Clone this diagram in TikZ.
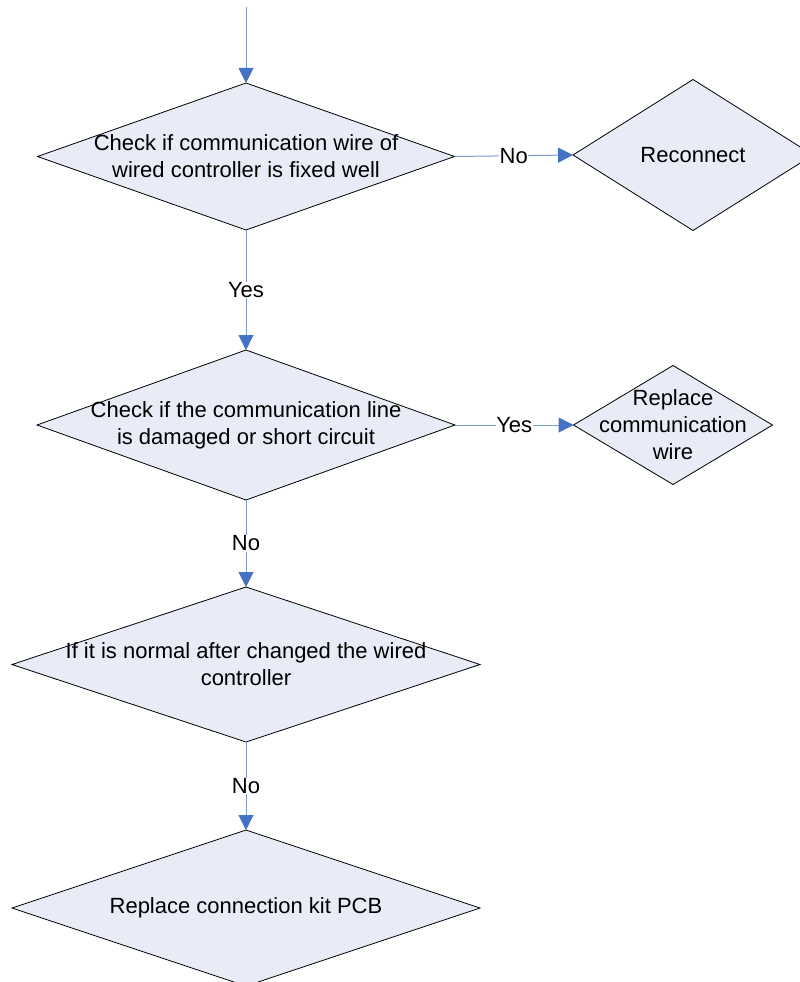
\documentclass[tikz,border=0pt]{standalone}
\usepackage{fontspec}
\setmainfont{Liberation Sans}
\usetikzlibrary{shapes.geometric,arrows.meta}
\definecolor{dfill}{RGB}{231,236,247}
\definecolor{lineblue}{RGB}{120,156,214}
\definecolor{headblue}{RGB}{68,114,196}
\tikzset{
  dia/.style={shape=diamond, draw=black, line width=0.8pt, fill=dfill, inner sep=0pt, outer sep=0pt},
  txt/.style={align=center, font=\fontsize{22}{27}\selectfont, inner sep=0pt},
  conn/.style={draw=lineblue, line width=1pt, -{Triangle[length=15pt, width=15pt, color=headblue]}},
  lbl/.style={fill=white, inner sep=0.5pt, font=\fontsize{22}{27}\selectfont}
}
\begin{document}
\begin{tikzpicture}[x=1pt,y=-1pt]
\useasboundingbox (0,0) rectangle (800,982);
\begin{scope}
\clip (0,0) rectangle (800,982);
\coordinate (start) at (246,7);
\node[dia, minimum width=417pt, minimum height=147pt] (d1) at (246,156.5) {};
\node[txt] (t1) at (d1) {Check if communication wire of\\wired controller is fixed well};
\node[dia, minimum width=240pt, minimum height=151pt] (r1) at (693,155) {};
\node[txt] (tr1) at (r1) {Reconnect};
\node[dia, minimum width=418pt, minimum height=150pt] (d2) at (246,425) {};
\node[txt] (t2) at (d2) {Check if the communication line\\is damaged or short circuit};
\node[dia, minimum width=199pt, minimum height=119pt] (r2) at (673,425) {};
\node[txt] (tr2) at (r2) {Replace\\communication\\wire};
\node[dia, minimum width=468pt, minimum height=155pt] (d3) at (246,664.5) {};
\node[txt] (t3) at (d3) {If it is normal after changed the wired\\controller};
\node[dia, minimum width=468pt, minimum height=156pt] (d4) at (246,908) {};
\node[txt] (t4) at (d4) {Replace connection kit PCB};
\draw[conn] (start) -- (d1.north);
\draw[conn] (d1.east) -- node[lbl] {No} (r1.west);
\draw[conn] (d1.south) -- node[lbl] {Yes} (d2.north);
\draw[conn] (d2.east) -- node[lbl] {Yes} (r2.west);
\draw[conn] (d2.south) -- node[lbl] {No} (d3.north);
\draw[conn] (d3.south) -- node[lbl] {No} (d4.north);
\end{scope}
\end{tikzpicture}
\end{document}
